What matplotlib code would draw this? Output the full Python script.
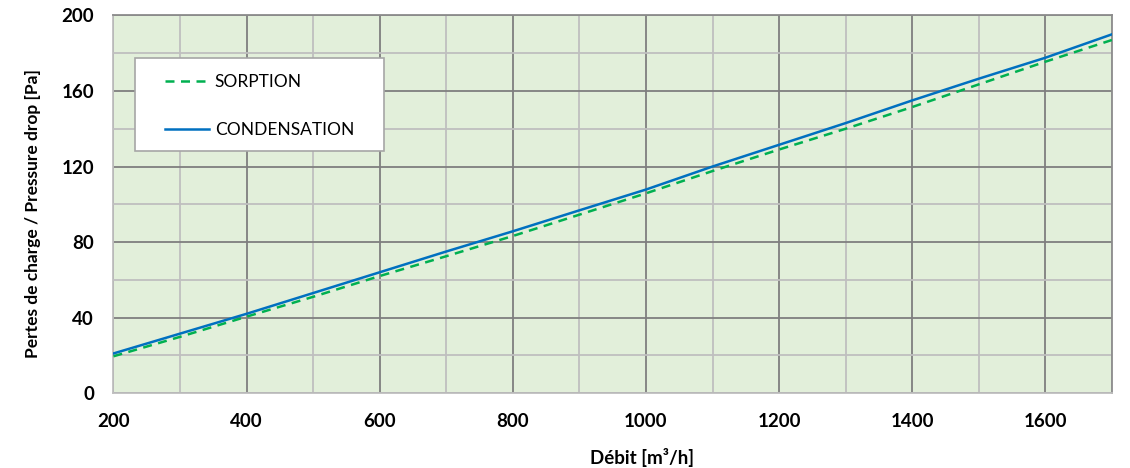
import numpy as np
import matplotlib
matplotlib.use("Agg")
import matplotlib.pyplot as plt
from matplotlib.patches import Rectangle
from matplotlib.ticker import MultipleLocator

plt.rcParams['font.family'] = ['Lato', 'DejaVu Sans']

# debit [m3/h] and pressure drop [Pa]
debit = [200, 300, 400, 500, 600, 700, 800, 900, 1000, 1100, 1200, 1300, 1400, 1500, 1600, 1700]
condensation = [21.0, 31.5, 42.0, 53.0, 64.0, 75.0, 85.7, 96.8, 107.8, 120.0,
                131.5, 143.0, 155.0, 166.5, 177.6, 190.0]
sorption = [19.5, 29.8, 40.5, 51.0, 62.0, 72.5, 83.2, 94.5, 105.8, 117.6,
            129.0, 140.0, 151.5, 163.5, 175.5, 187.0]

x_ticks = [200, 400, 600, 800, 1000, 1200, 1400, 1600]
y_ticks = [0, 40, 80, 120, 160, 200]

fig = plt.figure(figsize=(11.3, 4.68), dpi=100)
ax = fig.add_axes([0.1004, 0.160, 0.8836, 0.807])
ax.set_facecolor('#E2EFDA')

ax.plot(debit, sorption, color='#00B050', lw=1.8, ls=(0, (3.6, 2.6)), label='SORPTION', zorder=3)
ax.plot(debit, condensation, color='#0070C0', lw=1.8, label='CONDENSATION', zorder=4)

ax.set_xlim(200, 1700)
ax.set_ylim(0, 200)
ax.set_xticks(x_ticks)
ax.set_yticks(y_ticks)
ax.xaxis.set_minor_locator(MultipleLocator(100))
ax.yaxis.set_minor_locator(MultipleLocator(20))
ax.set_axisbelow(True)
ax.grid(which='minor', color='#BFBFBF', lw=1.3)
ax.grid(which='major', color='#7F7F7F', lw=1.3)
ax.tick_params(which='both', length=0)
ax.tick_params(axis='y', pad=14)
ax.tick_params(axis='x', pad=14)
for lab in ax.get_xticklabels() + ax.get_yticklabels():
    lab.set_fontsize(13.5)
    lab.set_fontweight('bold')

for s in ['left', 'bottom']:
    ax.spines[s].set_color('#BFBFBF')
for s in ['top', 'right']:
    ax.spines[s].set_color('#8C8C8C')
for s in ax.spines.values():
    s.set_linewidth(1.3)

ax.set_xlabel('Débit [m³/h]', fontsize=13.5, fontweight='bold', va='center')
ax.xaxis.set_label_coords(0.529, -0.171)
ax.set_ylabel('Pertes de charge / Pressure drop [Pa]', fontsize=12.5, fontweight='bold', va='center')
ax.yaxis.set_label_coords(-0.0806, 0.4755)

# legend box drawn separately so the padding matches
ax.add_patch(Rectangle((0.0215, 0.641), 0.2495, 0.247, transform=ax.transAxes,
                       facecolor='white', edgecolor='#A6A6A6', lw=1.2, zorder=5))
leg = ax.legend(loc='upper left', bbox_to_anchor=(0.052, 0.846), frameon=False,
                fontsize=12.5, handlelength=2.5, handletextpad=0.35,
                labelspacing=1.85, borderpad=0, borderaxespad=0)
leg.set_zorder(6)

fig.savefig('out.png', dpi=100)
